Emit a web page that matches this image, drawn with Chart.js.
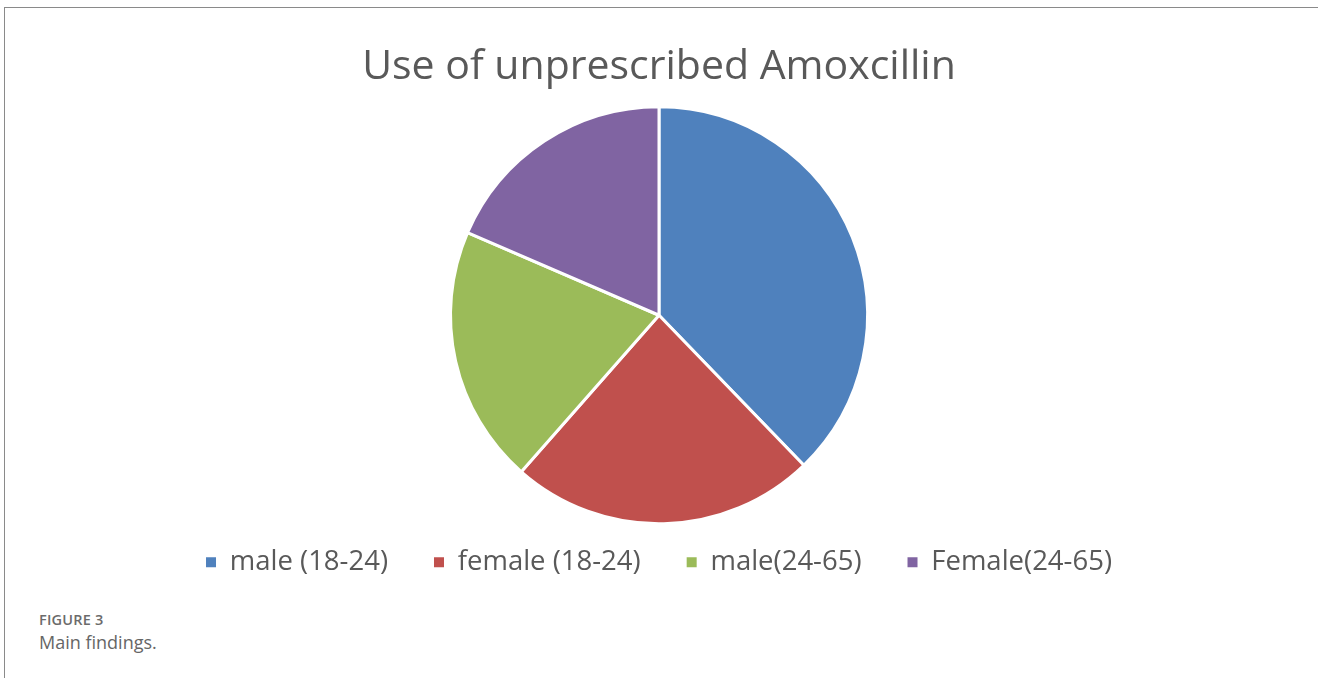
<!DOCTYPE html>
<html>
<head>
<meta charset="utf-8">
<script src="https://cdn.jsdelivr.net/npm/chart.js@4.4.1/dist/chart.umd.min.js"></script>
<style>
  html, body { margin:0; padding:0; background:#fff; width:1318px; height:678px; overflow:hidden; }
  #frame { position:absolute; left:4px; top:7px; width:1400px; height:700px; border-left:1px solid #8a8a8a; border-top:1px solid #8a8a8a; }
  #wrap { position:absolute; left:0; top:0; width:1318px; height:586px; }
  #cap1 { position:absolute; left:39px; top:610px; font-family:"Open Sans", sans-serif; font-size:14.5px; font-weight:600; color:#6b6b6b; letter-spacing:0.2px; }
  #cap2 { position:absolute; left:39px; top:630px; font-family:"Open Sans", sans-serif; font-size:18px; color:#666; }
</style>
</head>
<body>
<div id="frame"></div>
<div id="wrap"><canvas id="c"></canvas></div>
<div id="cap1">FIGURE 3</div>
<div id="cap2">Main findings.</div>
<script>
const titleText = "Use of unprescribed Amoxcillin";
const categories = ["male (18-24)", "female (18-24)", "male(24-65)", "Female(24-65)"];
const values = [51, 32, 27, 25];
const colors = ["#4F81BD", "#C0504D", "#9BBB59", "#8064A2"];

const defaultLabels = Chart.overrides.pie.plugins.legend.labels.generateLabels;

new Chart(document.getElementById('c'), {
  type: 'pie',
  data: {
    labels: categories,
    datasets: [{
      data: values,
      backgroundColor: colors,
      borderColor: '#ffffff',
      borderWidth: 3,
      hoverOffset: 0,
      radius: 208.5,
      clip: false
    }]
  },
  options: {
    responsive: true,
    maintainAspectRatio: false,
    animation: false,
    layout: { padding: 0 },
    plugins: {
      tooltip: { enabled: false },
      title: {
        display: true,
        text: titleText,
        color: '#595959',
        font: { family: '"Open Sans", sans-serif', size: 41, weight: 'normal' },
        padding: { top: 43, bottom: 35.8 }
      },
      legend: {
        position: 'bottom',
        labels: {
          color: '#595959',
          font: { family: '"Open Sans", sans-serif', size: 27.5 },
          boxWidth: 10,
          boxHeight: 10,
          padding: 46,
          generateLabels: (chart) => defaultLabels(chart).map(it => Object.assign(it, { lineWidth: 0, strokeStyle: it.fillStyle }))
        }
      }
    }
  }
});
</script>
</body>
</html>
